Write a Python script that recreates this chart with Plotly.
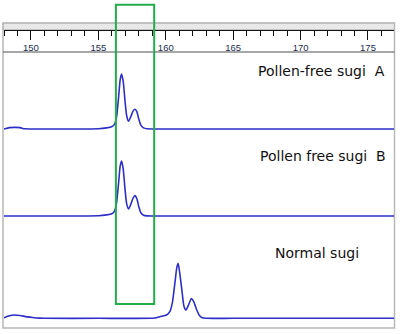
import plotly.graph_objects as go

# ---- data (retention-like x, relative intensity) ----
x_a = [148.0, 148.4, 148.8, 149.2, 149.5, 150.0, 155.0, 155.6, 155.98, 156.2, 156.35, 156.5, 156.62,
       156.72, 156.84, 156.98, 157.1, 157.24, 157.4, 157.58, 157.72, 157.86, 158.0, 158.15,
       158.35, 158.6, 159.0, 160.0, 176.95]
y_a = [0, 2.5, 3, 2.5, 0.3, 0, 0.5, 2, 4, 9, 22, 58, 90,
       100, 87, 50, 24, 14, 22, 33, 36, 31, 18, 7,
       2, 0.3, 0, 0, 0]

x_b = [148.0, 150.0, 155.0, 155.6, 156.0, 156.2, 156.35, 156.5, 156.62, 156.72, 156.84, 156.98,
       157.1, 157.24, 157.4, 157.58, 157.72, 157.86, 158.0, 158.15, 158.35, 158.6, 159.0,
       160.0, 176.95]
y_b = [0, 0, 0.5, 2, 4, 9, 24, 60, 91, 100, 86, 48,
       22, 13, 21, 33, 37, 31, 17, 6, 1.5, 0.2, 0,
       0, 0]

x_n = [148.0, 148.4, 148.75, 149.2, 149.6, 150.1, 150.6, 151.0, 155.0, 159.2, 159.56, 160.06,
       160.3, 160.5, 160.68, 160.82, 160.92, 161.05, 161.2, 161.35, 161.5, 161.7, 161.9,
       162.08, 162.3, 162.5, 162.7, 163.0, 165.0, 176.95]
y_n = [1, 4.5, 6, 5, 3, 1.5, 0.3, 0, 0, 0.5, 3, 6,
       12, 30, 65, 92, 100, 80, 50, 22, 15, 25, 36,
       30, 15, 5, 1, 0, 0, 0]

labels = ["Pollen-free sugi  A", "Pollen free sugi  B", "Normal sugi"]
x_range = [148.0, 176.93]
window = [156.3, 159.14]

# ---- layout helpers (pixel -> paper) ----
W, H = 400, 334
def py(p):
    return 1 - p / H
def px(p):
    return p / W

Y_RANGE = [-10, 145]
def dom(baseline_px, unit_px=0.55):
    h = (Y_RANGE[1] - Y_RANGE[0]) * unit_px
    bottom = baseline_px + (0 - Y_RANGE[0]) * unit_px
    return [py(bottom), py(bottom - h)]

line_col = "#2e2ec8"
fig = go.Figure()
for xs, ys, ya in [(x_a, y_a, "y"), (x_b, y_b, "y2"), (x_n, y_n, "y3")]:
    fig.add_trace(go.Scatter(x=xs, y=ys, yaxis=ya, xaxis="x", mode="lines",
                             line=dict(color=line_col, width=1.6, shape="spline", smoothing=0.6),
                             hoverinfo="skip", showlegend=False))

ycommon = dict(range=Y_RANGE, visible=False, fixedrange=True, anchor="x")
fig.update_layout(
    width=W, height=H, margin=dict(l=0, r=0, t=0, b=0),
    paper_bgcolor="white", plot_bgcolor="rgba(0,0,0,0)",
    xaxis=dict(domain=[px(4), px(394)], range=x_range, anchor="free", position=py(30),
               side="bottom", showline=True, linecolor="#111", linewidth=1,
               ticks="outside", ticklen=9, tickwidth=1, tickcolor="#111",
               tick0=150, dtick=5, showgrid=False, zeroline=False,
               minor=dict(dtick=1, ticklen=5, tickwidth=1, tickcolor="#111", ticks="outside", showgrid=False),
               tickfont=dict(family="Liberation Sans", size=9.5, color="#1c2c50")),
    yaxis=dict(domain=dom(129), **ycommon),
    yaxis2=dict(domain=dom(216), **ycommon),
    yaxis3=dict(domain=dom(318.3), **ycommon),
)

shapes = [
    # top grey band
    dict(type="rect", xref="paper", yref="paper", x0=px(3), x1=px(394.5), y0=py(29.5), y1=py(23),
         fillcolor="#e8e8e8", line=dict(color="#c4c4c4", width=1), layer="below"),
    # outer frame
    dict(type="rect", xref="paper", yref="paper", x0=px(3), x1=px(394.5), y0=py(328), y1=py(23),
         line=dict(color="#b8b8b8", width=1.5), layer="below"),
    # ruler bottom line
    dict(type="line", xref="paper", yref="paper", x0=px(3), x1=px(394.5), y0=py(52), y1=py(52),
         line=dict(color="#505050", width=1.2)),
    # green window
    dict(type="rect", xref="x", yref="paper", x0=window[0], x1=window[1], y0=py(304), y1=py(4.7),
         line=dict(color="#22ad4a", width=2), layer="above"),
]
fig.update_layout(shapes=shapes)

ann_font = dict(family="DejaVu Sans", size=14, color="#111")
fig.add_annotation(x=px(387), y=py(71), xref="paper", yref="paper", text=labels[0],
                   showarrow=False, xanchor="right", yanchor="middle", font=ann_font)
fig.add_annotation(x=px(388), y=py(156), xref="paper", yref="paper", text=labels[1],
                   showarrow=False, xanchor="right", yanchor="middle", font=ann_font)
fig.add_annotation(x=px(317), y=py(253), xref="paper", yref="paper", text=labels[2],
                   showarrow=False, xanchor="center", yanchor="middle", font=ann_font)

fig.write_html("out.html", config={"displayModeBar": False},
               post_script="document.body.style.margin='0';document.body.style.overflow='hidden';")
